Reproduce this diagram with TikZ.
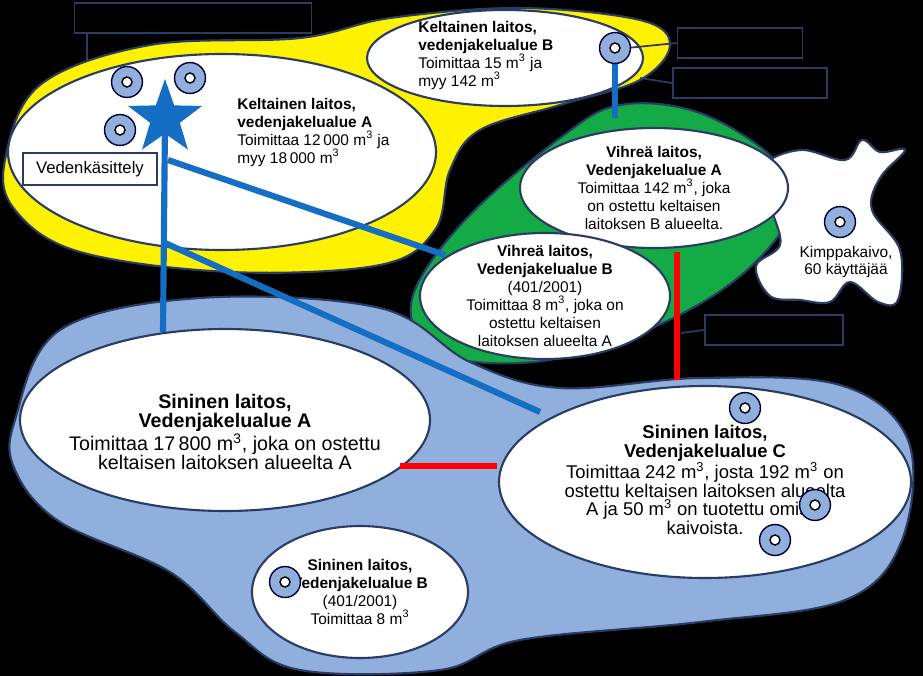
\documentclass[tikz,border=0pt]{standalone}
\usepackage{fontspec}
\setmainfont{Liberation Sans}
\usetikzlibrary{positioning, shapes.geometric}
\definecolor{navy}{RGB}{40,60,100}
\definecolor{pipe}{RGB}{20,110,195}
\definecolor{lblue}{RGB}{145,175,220}
\definecolor{lgreen}{RGB}{20,170,70}
\tikzset{
	x=0.02cm, y=-0.02cm,
	area/.style= {
		ellipse,
		fill=white,
		draw=navy,
		line width=1.2pt,
		inner sep=0pt
	},
	areatext/.style= {
		font=\fontsize{8.8}{10.2}\selectfont,
		align=center,
		inner sep=0pt
	},
	label/.style= {
		font=\fontsize{8.8}{10.2}\selectfont,
		align=left,
		anchor=north west,
		inner sep=0pt
	},
	blob/.style= {
		draw=navy,
		line width=1.2pt
	},
	well/.style= {
		circle,
		fill=lblue,
		draw=black!80!blue,
		line width=0.8pt,
		minimum size=22\pgflinewidth,
		inner sep=0pt,
		path picture={\fill[white, draw=black] (path picture bounding box.center) circle (0.1cm);}
	},
	pipeline/.style= {
		pipe,
		line width=3.5pt
	},
	redline/.style= {
		red,
		line width=3.5pt
	},
	note/.style= {
		draw=navy,
		line width=1pt
	}
}
\begin{document}
\begin{tikzpicture}
	\fill[black] (0,0) rectangle (923,676);
	\useasboundingbox (0,0) rectangle (923,676);
	
	% regions
	\draw[blob, fill=yellow] plot[smooth cycle, tension=0.6] coordinates {(5,160) (40,85) (150,45) (300,38) (390,18) (520,8) (640,20) (670,45) (640,80) (560,105) (480,130) (450,170) (435,230) (380,265) (230,272) (80,252) (15,210)};
	\draw[blob, fill=lgreen] plot[smooth cycle, tension=0.6] coordinates {(425,345) (413,295) (465,220) (560,138) (620,105) (700,113) (775,160) (792,210) (745,272) (665,322) (560,358) (475,362)};
	\draw[blob, fill=lblue] plot[smooth cycle, tension=0.6] coordinates {(15,420) (60,330) (200,298) (380,308) (470,362) (560,388) (700,378) (840,385) (908,440) (902,540) (845,600) (700,622) (520,640) (440,670) (300,670) (235,632) (170,572) (60,522) (15,470)};
	\draw[blob, fill=white] plot[smooth cycle, tension=0.6] coordinates {(762,168) (800,150) (845,160) (862,140) (880,152) (905,150) (880,178) (872,210) (900,250) (898,300) (878,302) (850,282) (830,302) (800,300) (770,296) (756,266) (780,245) (772,210)};
	
	% notes
	\node (noteTop)[note, minimum width=237*0.02cm, minimum height=30*0.02cm] at (193,18) {};
	\draw[note] (87,33) -- (87,60);
	
	% service areas
	\node (yellowA)[area, minimum width=428*0.02cm, minimum height=196*0.02cm] at (222,152) {};
	\node (yellowAtext)[label] at (237,98) {\textbf{Keltainen laitos,}\\\textbf{vedenjakelualue A}\\Toimittaa 12\,000 m\textsuperscript{3} ja\\myy 18\,000 m\textsuperscript{3}};
	\node (yellowB)[area, minimum width=276*0.02cm, minimum height=96*0.02cm] at (505,58) {};
	\node (yellowBtext)[label] at (418,21) {\textbf{Keltainen laitos,}\\\textbf{vedenjakelualue B}\\Toimittaa 15 m\textsuperscript{3} ja\\myy 142 m\textsuperscript{3}};
	
	\coordinate (starTop) at (165,120);
	\coordinate (starLine) at (168,160);
	\coordinate (starLow) at (165,243);
	\coordinate (wellB) at (615,48);
	
	\draw[pipeline] (starTop) -- (163,332);
	\draw[pipeline] (starLine) -- (445,255);
	\draw[pipeline] (starLow) -- (540,412);
	\draw[pipeline] (wellB) -- (615,118);
	
	\node (greenA)[area, minimum width=268*0.02cm, minimum height=120*0.02cm] at (654,188) {};
	\node[areatext] at (greenA) {\textbf{Vihreä laitos,}\\\textbf{Vedenjakelualue A}\\Toimittaa 142 m\textsuperscript{3}, joka\\on ostettu keltaisen\\laitoksen B alueelta.};
	\node (greenB)[area, minimum width=250*0.02cm, minimum height=126*0.02cm] at (545,296) {};
	\node[areatext] at (greenB) {\textbf{Vihreä laitos,}\\\textbf{Vedenjakelualue B}\\(401/2001)\\Toimittaa 8 m\textsuperscript{3}, joka on\\ostettu keltaisen\\laitoksen alueelta A};
	
	\node (blueA)[area, minimum width=410*0.02cm, minimum height=182*0.02cm] at (225,420) {};
	\node[areatext, font=\fontsize{11.2}{11}\selectfont] at (225,432) {\textbf{Sininen laitos,}\\\textbf{Vedenjakelualue A}\\Toimittaa 17\,800 m\textsuperscript{3}, joka on ostettu\\keltaisen laitoksen alueelta A};
	\node (blueC)[area, minimum width=412*0.02cm, minimum height=192*0.02cm] at (705,482) {};
	\node[areatext, font=\fontsize{10.5}{10.5}\selectfont] at (705,480) {\textbf{Sininen laitos,}\\\textbf{Vedenjakelualue C}\\Toimittaa 242 m\textsuperscript{3}, josta 192 m\textsuperscript{3} on\\ostettu keltaisen laitoksen alueelta\\A ja 50 m\textsuperscript{3} on tuotettu omista\\kaivoista.};
	\node (blueB)[area, minimum width=216*0.02cm, minimum height=132*0.02cm] at (360,592) {};
	\node[areatext] at (blueB) {\textbf{Sininen laitos,}\\\textbf{Vedenjakelualue B}\\(401/2001)\\Toimittaa 8 m\textsuperscript{3}};
	
	\draw[redline] (677,252) -- (677,380);
	\draw[redline] (400,466) -- (497,466);
	
	% notes at right
	\node (noteWell)[note, minimum width=125*0.02cm, minimum height=30*0.02cm] at (740,43) {};
	\node (noteBorder)[note, minimum width=154*0.02cm, minimum height=30*0.02cm] at (750,83) {};
	\node (noteRed)[note, minimum width=138*0.02cm, minimum height=30*0.02cm] at (774,330) {};
	\draw[note] (627,48) -- (noteWell.west);
	\draw[note] (640,78) -- (noteBorder.west);
	\draw[note] (681,333) -- (noteRed.west);
	
	\node (treatment)[draw=navy, fill=white, line width=1pt, minimum width=134*0.02cm, minimum height=32*0.02cm, font=\fontsize{9.5}{11}\selectfont] at (90,169) {Vedenkäsittely};
	\node (star)[star, star points=5, star point ratio=2.5, fill=pipe, minimum size=78*0.02cm, inner sep=0pt] at (165,118) {};
	
	\node (kimppa)[areatext] at (846,262) {Kimppakaivo,\\60 käyttäjää};
	
	% wells
	\foreach \wx/\wy in {127/82, 190/78, 120/130, 615/48, 745/408, 815/505, 775/540, 285/582, 840/222}
		\node[well] at (\wx,\wy) {};
\end{tikzpicture}
\end{document}
